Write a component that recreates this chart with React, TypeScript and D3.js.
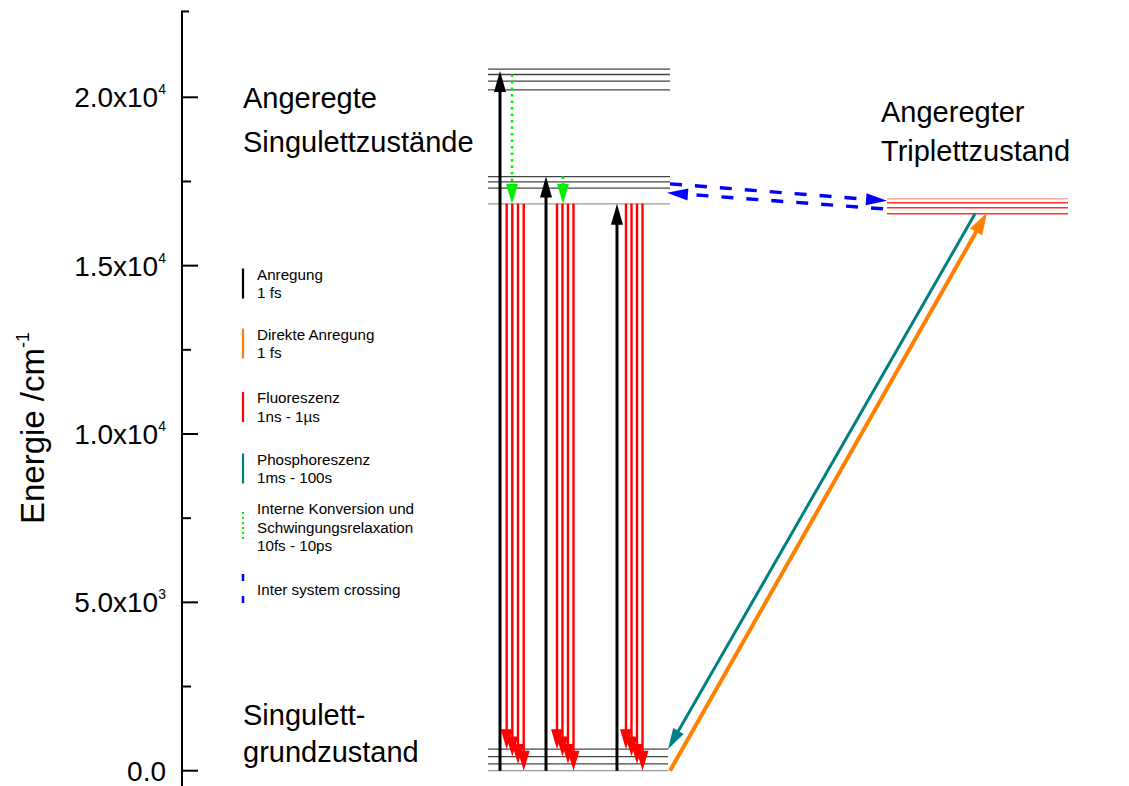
import React from "react";
import * as d3 from "d3";

// ---------- data ----------
const MAJOR_TICKS = [0, 5000, 10000, 15000, 20000];
const MINOR_TICKS = [2500, 7500, 12500, 17500];
const TICK_BASE = ["0.0", "5.0x10", "1.0x10", "1.5x10", "2.0x10"];
const TICK_EXP = ["", "3", "4", "4", "4"];

const S0_LEVELS = [0, 200, 420, 640];
const S1_LEVELS = [16836, 17302, 17489, 17647];
const S2_LEVELS = [20223, 20481, 20677, 20837];
const T1_LEVELS = [16538, 16717, 16865, 16984];

// horizontal extents (diagram units 0..100)
const SINGLET_SPAN = [0, 31.38];
const S0_SPAN = [0, 31.03];
const TRIPLET_SPAN = [68.79, 100];

const EXCITATION = [
  { x: 2.07, from: 0, to: 20780 },
  { x: 10.0, from: 0, to: 17647 },
  { x: 22.24, from: 0, to: 16836 },
];
const INTERNAL_CONV = [
  { x: 4.14, from: 20677, to: 16836 },
  { x: 12.93, from: 17647, to: 16836 },
];
const FLUOR_X = [
  [3.22, 4.19, 5.17, 6.16],
  [11.9, 12.84, 13.79, 14.74],
  [23.79, 24.74, 25.69, 26.64],
];
const FLUOR_FROM = 16836;
const FLUOR_TO = [640, 420, 200, 0];
const ISC = [
  { x1: 31.38, e1: 17430, x2: 68.79, e2: 16925 },
  { x1: 68.1, e1: 16688, x2: 30.86, e2: 17162 },
];
const PHOSPHOR = { x1: 83.97, e1: 16538, x2: 31.03, e2: 640 };
const DIRECT = { x1: 31.38, e1: 0, x2: 86.03, e2: 16570 };

const LEGEND_LABELS = [
  ["Anregung", "1 fs"],
  ["Direkte Anregung", "1 fs"],
  ["Fluoreszenz", "1ns - 1\u00b5s"],
  ["Phosphoreszenz", "1ms - 100s"],
  ["Interne Konversion und", "Schwingungsrelaxation", "10fs - 10ps"],
  ["Inter system crossing"],
];
const LEGEND_KIND = ["excite", "direct", "fluor", "phos", "ic", "isc"];

// ---------- styles ----------
const FONT = "'Liberation Sans', Arial, Helvetica, sans-serif";
const STYLE: Record<string, { color: string; width: number; dash?: string }> = {
  excite: { color: "#000000", width: 3 },
  direct: { color: "#ff8000", width: 4 },
  fluor: { color: "#ff0000", width: 2.4 },
  phos: { color: "#008080", width: 3 },
  ic: { color: "#00ee00", width: 2.6, dash: "2.5,4" },
  isc: { color: "#0000ff", width: 3.4, dash: "12,13" },
};
const LEGEND_CY = [283.5, 343.5, 407, 468.5, 527, 589];

const W = 1129;
const H = 786;
const yS = d3.scaleLinear().domain([0, 20000]).range([770.7, 97.3]);
const xS = d3.scaleLinear().domain([0, 100]).range([488, 1068]);
const AXIS_X = 182;

function Arrow(props: {
  x1: number; y1: number; x2: number; y2: number;
  color: string; width: number; headLen: number; headW: number; dash?: string;
}) {
  const { x1, y1, x2, y2, color, width, headLen, headW, dash } = props;
  const dx = x2 - x1, dy = y2 - y1;
  const L = Math.hypot(dx, dy);
  const ux = dx / L, uy = dy / L;
  const bx = x2 - ux * headLen, by = y2 - uy * headLen;
  const px = -uy, py = ux;
  const pts = `${x2},${y2} ${bx + px * headW},${by + py * headW} ${bx - px * headW},${by - py * headW}`;
  return (
    <g>
      <line x1={x1} y1={y1} x2={bx + ux * 1} y2={by + uy * 1} stroke={color}
        strokeWidth={width} strokeDasharray={dash} />
      <polygon points={pts} fill={color} />
    </g>
  );
}

export default function App() {
  const levelLines = (levels: number[], span: number[], colorFn: (i: number) => string, sw = 1.3) =>
    levels.map((e, i) => (
      <line key={i} x1={xS(span[0])} x2={xS(span[1])} y1={yS(e)} y2={yS(e)}
        stroke={colorFn(i)} strokeWidth={sw} />
    ));

  return (
    <svg width={W} height={H} style={{ position: "absolute", left: 0, top: 0, background: "#fff" }}
      fontFamily={FONT}>
      <rect width={W} height={H} fill="#fff" />
      {/* axis */}
      <line x1={AXIS_X} x2={AXIS_X} y1={yS(22550)} y2={H + 2} stroke="#000" strokeWidth={2} />
      <line x1={AXIS_X - 1} x2={AXIS_X + 7} y1={yS(22550)} y2={yS(22550)} stroke="#000" strokeWidth={2} />
      {MAJOR_TICKS.map((t, i) => (
        <g key={t}>
          <line x1={AXIS_X} x2={AXIS_X + 16} y1={yS(t)} y2={yS(t)} stroke="#000" strokeWidth={2} />
          <text x={166} y={yS(t) + 10} fontSize={28} textAnchor="end" fill="#000">
            {TICK_BASE[i]}
            {TICK_EXP[i] && <tspan fontSize={14} dy={-13}>{TICK_EXP[i]}</tspan>}
          </text>
        </g>
      ))}
      {MINOR_TICKS.map((t) => (
        <line key={t} x1={AXIS_X} x2={AXIS_X + 9} y1={yS(t)} y2={yS(t)} stroke="#000" strokeWidth={2} />
      ))}
      <text transform="translate(44,428) rotate(-90)" fontSize={33} textAnchor="middle" fill="#000">
        Energie /cm<tspan fontSize={18} dy={-15}>-1</tspan>
      </text>

      {/* levels */}
      {levelLines(S2_LEVELS, SINGLET_SPAN, () => "#444")}
      {levelLines(S1_LEVELS, SINGLET_SPAN, (i) => (i === 0 ? "#999" : "#444"))}
      {levelLines(S0_LEVELS, S0_SPAN, (i) => (i === 0 ? "#999" : "#444"))}
      {levelLines(T1_LEVELS, TRIPLET_SPAN, (i) => (i === 3 ? "#ffa8a8" : "#ff3030"), 1.5)}

      {/* fluorescence */}
      {FLUOR_X.map((grp, g) =>
        grp.map((xv, i) => (
          <Arrow key={`f${g}-${i}`} x1={xS(xv)} y1={yS(FLUOR_FROM)} x2={xS(xv)} y2={yS(FLUOR_TO[i])}
            color={STYLE.fluor.color} width={STYLE.fluor.width} headLen={20} headW={6} />
        ))
      )}
      {/* excitation */}
      {EXCITATION.map((a, i) => (
        <Arrow key={`e${i}`} x1={xS(a.x)} y1={yS(a.from)} x2={xS(a.x)} y2={yS(a.to)}
          color={STYLE.excite.color} width={STYLE.excite.width} headLen={21} headW={6} />
      ))}
      {/* internal conversion */}
      {INTERNAL_CONV.map((a, i) => (
        <Arrow key={`ic${i}`} x1={xS(a.x)} y1={yS(a.from)} x2={xS(a.x)} y2={yS(a.to)}
          color={STYLE.ic.color} width={STYLE.ic.width} dash={STYLE.ic.dash} headLen={20} headW={6} />
      ))}
      {/* ISC */}
      {ISC.map((a, i) => (
        <Arrow key={`isc${i}`} x1={xS(a.x1)} y1={yS(a.e1)} x2={xS(a.x2)} y2={yS(a.e2)}
          color={STYLE.isc.color} width={STYLE.isc.width} dash={STYLE.isc.dash} headLen={21} headW={6} />
      ))}
      {/* phosphorescence */}
      <Arrow x1={xS(PHOSPHOR.x1)} y1={yS(PHOSPHOR.e1)} x2={xS(PHOSPHOR.x2)} y2={yS(PHOSPHOR.e2)}
        color={STYLE.phos.color} width={STYLE.phos.width} headLen={21} headW={6} />
      {/* direct excitation */}
      <Arrow x1={xS(DIRECT.x1)} y1={yS(DIRECT.e1)} x2={xS(DIRECT.x2)} y2={yS(DIRECT.e2)}
        color={STYLE.direct.color} width={STYLE.direct.width} headLen={22} headW={7} />

      {/* state labels */}
      <g fontSize={29} fill="#000">
        <text x={243} y={108}>Angeregte</text>
        <text x={243} y={152}>Singulettzustände</text>
        <text x={881} y={122}>Angeregter</text>
        <text x={881} y={161}>Triplettzustand</text>
        <text x={243} y={725}>Singulett-</text>
        <text x={243} y={762}>grundzustand</text>
      </g>

      {/* legend */}
      {LEGEND_LABELS.map((lines, i) => {
        const st = STYLE[LEGEND_KIND[i]];
        const cy = LEGEND_CY[i];
        const lh = 18.5;
        const firstBase = cy - ((lines.length - 1) * lh) / 2 + 5.5;
        return (
          <g key={i}>
            <line x1={243} x2={243} y1={cy - 15} y2={cy + 15} stroke={st.color}
              strokeWidth={LEGEND_KIND[i] === "isc" ? 2.5 : 2.2}
              strokeDasharray={LEGEND_KIND[i] === "isc" ? "7,15" : LEGEND_KIND[i] === "ic" ? "2,3" : undefined} />
            {lines.map((ln, j) => (
              <text key={j} x={257} y={firstBase + j * lh} fontSize={15.2} fill="#000">{ln}</text>
            ))}
          </g>
        );
      })}
    </svg>
  );
}
